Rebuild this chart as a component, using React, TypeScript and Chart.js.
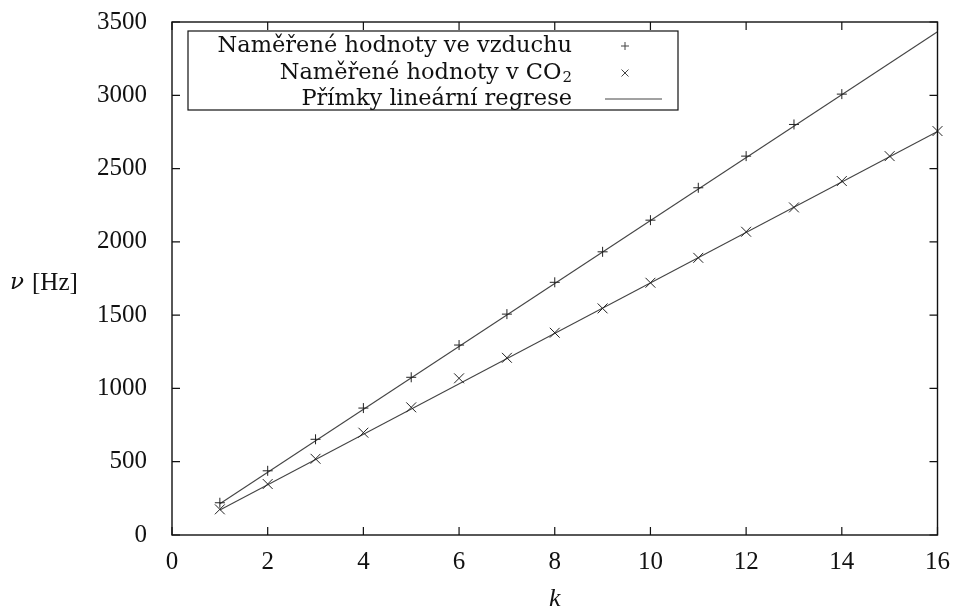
import React, { useEffect, useRef } from "react";
import { Chart, registerables } from "chart.js";

Chart.register(...registerables);

// Measured points: air
const kAir = [1, 2, 3, 4, 5, 6, 7, 8, 9, 10, 11, 12, 13, 14];
const nuAir = [220, 438, 653, 866, 1076, 1296, 1507, 1724, 1932, 2148, 2369, 2585, 2801, 3008];
// Measured points: CO2
const kCO2 = [1, 2, 3, 4, 5, 6, 7, 8, 9, 10, 11, 12, 13, 14, 15, 16];
const nuCO2 = [175, 348, 520, 698, 871, 1069, 1209, 1380, 1546, 1721, 1891, 2069, 2235, 2415, 2585, 2756];
// Regression lines (end points)
const fitK = [1, 16];
const fitAir = [213, 3433];
const fitCO2 = [170, 2753];

const xTicks = [0, 2, 4, 6, 8, 10, 12, 14, 16];
const yTicks = [0, 500, 1000, 1500, 2000, 2500, 3000, 3500];

const legendAir = "Naměřené hodnoty ve vzduchu";
const legendCO2 = "Naměřené hodnoty v CO";
const legendCO2Sub = "2";
const legendFit = "Přímky lineární regrese";
const xTitle = "k";
const yTitleSym = "ν";
const yTitleUnit = "[Hz]";

const TICKFONT = "'Liberation Serif', serif";
const TEXTFONT = "'DejaVu Serif', serif";

const toPts = (xs: number[], ys: number[]) => xs.map((x, i) => ({ x, y: ys[i] }));

export default function App() {
  const ref = useRef<HTMLCanvasElement | null>(null);

  useEffect(() => {
    if (!ref.current) return;
    const decor = {
      id: "decor",
      afterDraw(chart: any) {
        const ctx = chart.ctx as CanvasRenderingContext2D;
        const a = chart.chartArea;
        const xs = chart.scales.x;
        const ys = chart.scales.y;
        ctx.save();
        ctx.strokeStyle = "#111";
        ctx.lineWidth = 1.4;
        ctx.strokeRect(a.left, a.top, a.right - a.left, a.bottom - a.top);
        ctx.lineWidth = 1.2;
        const tl = 8;
        ctx.beginPath();
        xTicks.forEach((t) => {
          const px = xs.getPixelForValue(t);
          ctx.moveTo(px, a.bottom);
          ctx.lineTo(px, a.bottom - tl);
          ctx.moveTo(px, a.top);
          ctx.lineTo(px, a.top + tl);
        });
        yTicks.forEach((t) => {
          const py = ys.getPixelForValue(t);
          ctx.moveTo(a.left, py);
          ctx.lineTo(a.left + tl, py);
          ctx.moveTo(a.right, py);
          ctx.lineTo(a.right - tl, py);
        });
        ctx.stroke();

        // legend
        const lx = a.left + 16;
        const ly = a.top + 9;
        const lw = 490;
        const lh = 79;
        ctx.fillStyle = "#fff";
        ctx.fillRect(lx, ly, lw, lh);
        ctx.lineWidth = 1.2;
        ctx.strokeRect(lx, ly, lw, lh);
        ctx.fillStyle = "#111";
        ctx.textBaseline = "middle";
        const textRight = lx + 384;
        const symX = lx + 437;
        const rows = [ly + 15, ly + 42, ly + 68];
        ctx.textAlign = "right";
        ctx.font = `22.5px ${TEXTFONT}`;
        ctx.fillText(legendAir, textRight, rows[0]);
        ctx.font = `15px ${TEXTFONT}`;
        const subW = ctx.measureText(legendCO2Sub).width;
        ctx.fillText(legendCO2Sub, textRight, rows[1] + 5);
        ctx.font = `22.5px ${TEXTFONT}`;
        ctx.fillText(legendCO2, textRight - subW - 1, rows[1]);
        ctx.fillText(legendFit, textRight, rows[2]);
        // symbols
        ctx.strokeStyle = "#444";
        ctx.lineWidth = 1;
        const r = 4;
        ctx.beginPath();
        ctx.moveTo(symX - r, rows[0]);
        ctx.lineTo(symX + r, rows[0]);
        ctx.moveTo(symX, rows[0] - r);
        ctx.lineTo(symX, rows[0] + r);
        const d = 3.5;
        ctx.moveTo(symX - d, rows[1] - d);
        ctx.lineTo(symX + d, rows[1] + d);
        ctx.moveTo(symX - d, rows[1] + d);
        ctx.lineTo(symX + d, rows[1] - d);
        ctx.moveTo(symX - 20, rows[2]);
        ctx.lineTo(symX + 37, rows[2]);
        ctx.stroke();

        // axis titles
        ctx.fillStyle = "#111";
        ctx.textAlign = "left";
        ctx.font = `italic 23px ${TEXTFONT}`;
        const yMid = (a.top + a.bottom) / 2 + 5;
        ctx.fillText(yTitleSym, 10, yMid);
        ctx.font = `25px ${TICKFONT}`;
        ctx.fillText(yTitleUnit, 32, yMid);
        ctx.textAlign = "center";
        ctx.font = `italic 26px ${TICKFONT}`;
        ctx.fillText(xTitle, (a.left + a.right) / 2, a.bottom + 64);
        ctx.restore();
      },
    };

    const chart = new Chart(ref.current, {
      type: "scatter",
      data: {
        datasets: [
          {
            label: legendAir,
            data: toPts(kAir, nuAir),
            pointStyle: "cross",
            pointRadius: 5,
            borderColor: "#222",
            borderWidth: 1,
            backgroundColor: "#222",
            showLine: false,
            clip: false as any,
          },
          {
            label: legendCO2,
            data: toPts(kCO2, nuCO2),
            pointStyle: "crossRot",
            pointRadius: 7,
            borderColor: "#222",
            borderWidth: 1,
            backgroundColor: "#222",
            showLine: false,
            clip: false as any,
          },
          {
            label: legendFit,
            data: toPts(fitK, fitAir),
            showLine: true,
            pointRadius: 0,
            borderColor: "#444",
            borderWidth: 1.1,
            clip: false as any,
          },
          {
            label: legendFit + " CO2",
            data: toPts(fitK, fitCO2),
            showLine: true,
            pointRadius: 0,
            borderColor: "#444",
            borderWidth: 1.1,
            clip: false as any,
          },
        ],
      },
      options: {
        animation: false,
        responsive: false,
        maintainAspectRatio: false,
        events: [],
        layout: { padding: { left: 0, right: 20.5, top: 22, bottom: 0 } },
        plugins: { legend: { display: false }, tooltip: { enabled: false } },
        scales: {
          x: {
            type: "linear",
            min: 0,
            max: 16,
            afterBuildTicks: (s: any) => {
              s.ticks = xTicks.map((v) => ({ value: v }));
            },
            afterFit: (s: any) => {
              s.height = 80;
              s.paddingLeft = 0;
              s.paddingRight = 0;
            },
            grid: { display: false },
            border: { display: false },
            ticks: {
              color: "#111",
              font: { family: TICKFONT, size: 25 },
              padding: 4,
              maxRotation: 0,
              callback: (v: any) => String(v),
            },
          },
          y: {
            type: "linear",
            min: 0,
            max: 3500,
            afterBuildTicks: (s: any) => {
              s.ticks = yTicks.map((v) => ({ value: v }));
            },
            afterFit: (s: any) => {
              s.width = 172;
              s.paddingTop = 0;
              s.paddingBottom = 0;
            },
            grid: { display: false },
            border: { display: false },
            ticks: {
              color: "#111",
              font: { family: TICKFONT, size: 25 },
              padding: 17,
              callback: (v: any) => String(v),
            },
          },
        },
      },
      plugins: [decor],
    });
    return () => chart.destroy();
  }, []);

  return (
    <div style={{ position: "fixed", left: 0, top: 0, width: 958, height: 615, background: "#fff" }}>
      <canvas ref={ref} width={958} height={615} style={{ display: "block", width: 958, height: 615 }} />
    </div>
  );
}
